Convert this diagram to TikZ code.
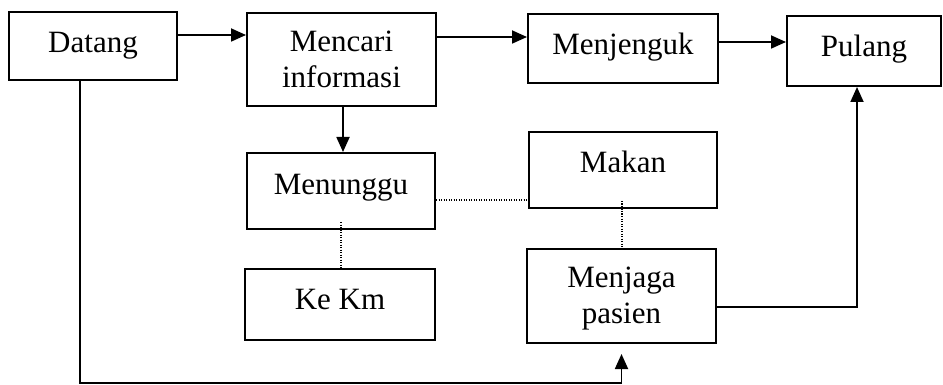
\documentclass[tikz,border=0pt]{standalone}
\usepackage{fontspec}
\setmainfont{Liberation Serif}
\usetikzlibrary{arrows.meta,calc}

\tikzset{
  stepbox/.style={draw, line width=2pt, rectangle, inner sep=0pt},
  lbl/.style={anchor=base, inner sep=0pt, font=\fontsize{31}{31}\selectfont},
  flow/.style={line width=1.8pt, -{Triangle[length=15pt,width=13pt]}},
  link/.style={line width=1.8pt},
  dots/.style={line width=1.2pt, dash pattern=on 1.2pt off 1.3pt}
}

\begin{document}
\begin{tikzpicture}[x=1pt,y=-1pt]
  \useasboundingbox (0,0) rectangle (943,385);

  % boxes
  \node[stepbox, minimum width=168pt, minimum height=68pt] (datang)    at (93,46)     {};
  \node[stepbox, minimum width=189pt, minimum height=93pt] (mencari)   at (341.5,59.5){};
  \node[stepbox, minimum width=190pt, minimum height=69pt] (menjenguk) at (623,48.5)  {};
  \node[stepbox, minimum width=154pt, minimum height=70pt] (pulang)    at (864,51)    {};
  \node[stepbox, minimum width=188pt, minimum height=76pt] (menunggu)  at (341,191)   {};
  \node[stepbox, minimum width=190pt, minimum height=71pt] (kekm)      at (340,304.5) {};
  \node[stepbox, minimum width=188pt, minimum height=76pt] (makan)     at (623,170)   {};
  \node[stepbox, minimum width=189pt, minimum height=94pt] (menjaga)   at (621.5,296) {};

  % labels
  \node[lbl] (datang-t)    at (93,53)     {Datang};
  \node[lbl] (mencari-t1)  at (341.5,52)  {Mencari};
  \node[lbl] (mencari-t2)  at (341.5,88)  {informasi};
  \node[lbl] (menjenguk-t) at (623,55)    {Menjenguk};
  \node[lbl] (pulang-t)    at (864,57)    {Pulang};
  \node[lbl] (menunggu-t)  at (341,195)   {Menunggu};
  \node[lbl] (makan-t)     at (623,172)   {Makan};
  \node[lbl] (kekm-t)      at (340,309)   {Ke Km};
  \node[lbl] (menjaga-t1)  at (621.5,287) {Menjaga};
  \node[lbl] (menjaga-t2)  at (621.5,323) {pasien};

  \coordinate (turn) at (621.5,383);

  % main flow
  \draw[flow] ([yshift=11pt]datang.east) -- ([yshift=24.5pt]mencari.west);
  \draw[flow] ([yshift=22.5pt]mencari.east) -- ([yshift=11.5pt]menjenguk.west);
  \draw[flow] ([yshift=6.5pt]menjenguk.east) -- ([yshift=9pt]pulang.west);
  \draw[flow] ([xshift=1.5pt]mencari.south) -- ([xshift=2pt]menunggu.north);
  \draw[flow] ([yshift=-11pt]menjaga.east) -| ([xshift=-7pt]pulang.south);
  \draw[link] ([xshift=-13pt]datang.south) |- (turn);
  \draw[flow, shorten >=10pt] (turn) -- (menjaga.south);

  % loose links
  \draw[dots] ([yshift=-9pt]menunggu.east) -- ([yshift=-30pt]makan.west);
  \draw[dots] ([yshift=8pt]menunggu.south) -- (kekm.north -| menunggu.south);
  \draw[dots] ([yshift=8pt, xshift=-1pt]makan.south) -- ([xshift=0.5pt]menjaga.north);
\end{tikzpicture}
\end{document}
